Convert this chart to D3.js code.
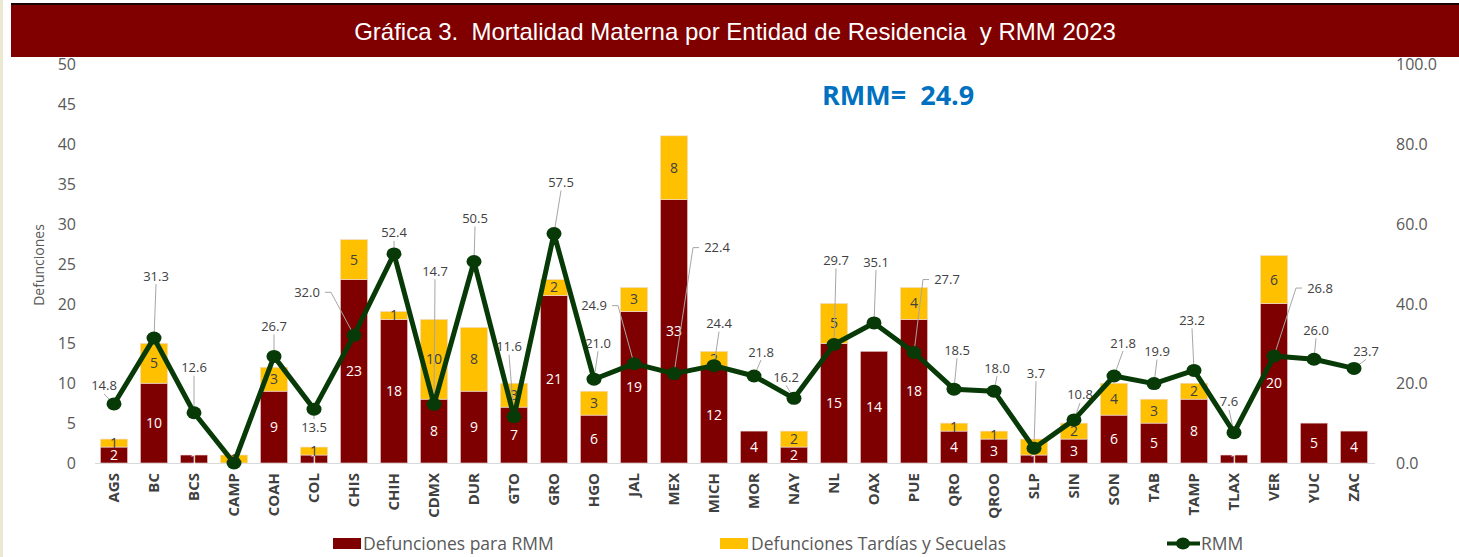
<!DOCTYPE html>
<html lang="es">
<head>
  <meta charset="UTF-8">
  <title>Gráfica 3</title>
  <style>
    body { margin: 0; background: #fff; }
    svg text { font-family: "Open Sans", "Noto Sans", sans-serif; }
    .pre { white-space: pre; }
  </style>
</head>
<body>
  <svg id="chart" width="1459" height="557"></svg>

  <script src="https://d3js.org/d3.v7.min.js"></script>
  <script>
    // datos
    const entidades = ["AGS", "BC", "BCS", "CAMP", "COAH", "COL", "CHIS", "CHIH", "CDMX", "DUR", "GTO", "GRO",
      "HGO", "JAL", "MEX", "MICH", "MOR", "NAY", "NL", "OAX", "PUE", "QRO", "QROO", "SLP", "SIN", "SON",
      "TAB", "TAMP", "TLAX", "VER", "YUC", "ZAC"];
    const defRMM = [2, 10, 1, 0, 9, 1, 23, 18, 8, 9, 7, 21, 6, 19, 33, 12, 4, 2, 15, 14, 18, 4, 3, 1, 3, 6, 5, 8, 1, 20, 5, 4];
    const defTardias = [1, 5, 0, 1, 3, 1, 5, 1, 10, 8, 3, 2, 3, 3, 8, 2, 0, 2, 5, 0, 4, 1, 1, 2, 2, 4, 3, 2, 0, 6, 0, 0];
    const rmm = [14.8, 31.3, 12.6, 0, 26.7, 13.5, 32.0, 52.4, 14.7, 50.5, 11.6, 57.5, 21.0, 24.9, 22.4, 24.4, 21.8, 16.2,
      29.7, 35.1, 27.7, 18.5, 18.0, 3.7, 10.8, 21.8, 19.9, 23.2, 7.6, 26.8, 26.0, 23.7];
    const rmmNacional = 24.9;
    const leftTicks = [0, 5, 10, 15, 20, 25, 30, 35, 40, 45, 50];
    const rightTicks = [0, 20, 40, 60, 80, 100];

    // label placement for the RMM values (offset from the point, px)
    const labelOffset = [[-10, -18], [2, -62], [0, -45], null, [0, -30], [0, 18], [-47, -43], [0, -21],
      [1, -133], [1, -43], [-5, -70], [7, -51], [4, -36], [-40, -58], [43, -126], [5, -42], [7, -24],
      [-8, -21], [2, -84], [2, -61], [33, -73], [3, -39], [3, -23], [2, -75], [6, -25], [9, -33],
      [3, -32], [-2, -50], [-5, -31], [46, -68], [2, -29], [12, -17]];

    const colRed = "#7f0000", colYellow = "#ffc000", colLine = "#073a07";

    const svg = d3.select("#chart");

    // borde izquierdo
    svg.append("rect").attr("x", 0).attr("y", 0).attr("width", 3).attr("height", 557).attr("fill", "#ece8d2");

    // barra de titulo
    svg.append("rect").attr("x", 11).attr("y", 3).attr("width", 1448).attr("height", 2).attr("fill", "#1a0000");
    svg.append("rect").attr("x", 11).attr("y", 5).attr("width", 1448).attr("height", 52).attr("fill", "#800000");
    svg.append("text")
      .attr("class", "pre")
      .attr("x", 735).attr("y", 40)
      .attr("text-anchor", "middle")
      .attr("fill", "#fff")
      .style("font-family", "'Liberation Sans', Arial, sans-serif")
      .style("font-size", "24px")
      .text("Gráfica 3.  Mortalidad Materna por Entidad de Residencia  y RMM 2023");

    const x = d3.scaleBand().domain(entidades).range([94, 1374]).paddingInner(0.32).paddingOuter(0.16);
    const y = d3.scaleLinear().domain([0, 50]).range([463, 64]);
    const y2 = d3.scaleLinear().domain([0, 100]).range([463, 64]);

    // ejes
    const yAxis = d3.axisLeft(y).tickValues(leftTicks).tickSize(0).tickPadding(0);
    const gy = svg.append("g").attr("transform", "translate(76,0)").call(yAxis);
    gy.select(".domain").remove();
    gy.selectAll("text").attr("fill", "#595959").style("font-size", "16px").attr("dy", "0.35em");

    const yAxis2 = d3.axisRight(y2).tickValues(rightTicks).tickSize(0).tickPadding(0).tickFormat(d3.format(".1f"));
    const gy2 = svg.append("g").attr("transform", "translate(1396,0)").call(yAxis2);
    gy2.select(".domain").remove();
    gy2.selectAll("text").attr("fill", "#595959").style("font-size", "16px").attr("dy", "0.35em");

    svg.append("text")
      .attr("transform", "translate(44,265) rotate(-90)")
      .attr("text-anchor", "middle")
      .attr("fill", "#595959")
      .style("font-size", "14px")
      .text("Defunciones");

    svg.append("line")
      .attr("x1", 95).attr("x2", 1375).attr("y1", 463.5).attr("y2", 463.5)
      .attr("stroke", "#d9d9d9").attr("stroke-width", 1);

    const xAxis = d3.axisBottom(x).tickSize(0).tickPadding(0);
    const gx = svg.append("g").attr("transform", "translate(0,473)").call(xAxis);
    gx.select(".domain").remove();
    gx.selectAll("text")
      .attr("transform", "rotate(-90)")
      .attr("text-anchor", "end")
      .attr("x", 0).attr("y", 0).attr("dy", "0.35em")
      .attr("fill", "#404040")
      .style("font-size", "15px")
      .style("font-weight", "bold");

    // barras apiladas
    const rows = entidades.map((e, i) => ({ e: e, a: defRMM[i], b: defTardias[i], r: rmm[i], i: i }));
    const stack = d3.stack().keys(["a", "b"])(rows);
    const colors = [colRed, colYellow];

    stack.forEach((layer, k) => {
      const g = svg.append("g");
      g.selectAll("rect")
        .data(layer.filter(d => d[1] > d[0]))
        .enter()
        .append("rect")
        .attr("x", d => x(d.data.e))
        .attr("y", d => y(d[1]))
        .attr("width", x.bandwidth())
        .attr("height", d => y(d[0]) - y(d[1]))
        .attr("fill", colors[k])
        .attr("stroke", "#f2dcdc")
        .attr("stroke-width", 0.6);

      g.selectAll("text")
        .data(layer.filter(d => d[1] > d[0]))
        .enter()
        .append("text")
        .attr("x", d => x(d.data.e) + x.bandwidth() / 2)
        .attr("y", d => (y(d[0]) + y(d[1])) / 2)
        .attr("dy", "0.36em")
        .attr("text-anchor", "middle")
        .attr("fill", k === 0 ? "#fff" : "#404040")
        .style("font-size", "14px")
        .text(d => d[1] - d[0]);
    });

    // linea RMM
    const cx = d => x(d.e) + x.bandwidth() / 2;
    const line = d3.line().x(cx).y(d => y2(d.r));

    // lineas guia de etiquetas
    const lab = svg.append("g");
    rows.forEach(d => {
      const off = labelOffset[d.i];
      if (!off) return;
      const px = cx(d), py = y2(d.r);
      const lx = px + off[0], ly = py + off[1];
      const txt = d3.format(".1f")(d.r);
      const dist = Math.hypot(off[0], off[1]);
      if (dist > 16) {
        let path;
        if (Math.abs(off[0]) > 25) {
          const half = 15;
          const sx = off[0] < 0 ? lx + half + 3 : lx - half - 3;
          const sx2 = off[0] < 0 ? sx + 6 : sx - 6;
          path = `M${sx},${ly}L${sx2},${ly}L${px},${py}`;
        } else if (off[1] > 0) {
          path = `M${lx},${ly - 8}L${px},${py}`;
        } else {
          path = `M${lx},${ly + 8}L${px},${py}`;
        }
        lab.append("path").attr("d", path).attr("fill", "none")
          .attr("stroke", "#a6a6a6").attr("stroke-width", 1);
      }
      lab.append("text")
        .attr("x", lx).attr("y", ly).attr("dy", "0.35em")
        .attr("text-anchor", "middle")
        .attr("fill", "#404040")
        .style("font-size", "13px")
        .text(txt);
    });

    svg.append("path")
      .datum(rows)
      .attr("d", line)
      .attr("fill", "none")
      .attr("stroke", colLine)
      .attr("stroke-width", 5)
      .attr("stroke-linejoin", "round");

    svg.append("g").selectAll("ellipse")
      .data(rows)
      .enter()
      .append("ellipse")
      .attr("cx", cx)
      .attr("cy", d => y2(d.r))
      .attr("rx", 7.5).attr("ry", 6.5)
      .attr("fill", colLine);

    // RMM nacional
    svg.append("text")
      .attr("class", "pre")
      .attr("x", 822).attr("y", 105)
      .attr("fill", "#0070c0")
      .style("font-size", "27px")
      .style("font-weight", "bold")
      .text("RMM=  " + rmmNacional.toFixed(1));

    // leyenda
    const leg = svg.append("g").style("font-size", "17.5px");
    leg.append("rect").attr("x", 333).attr("y", 538).attr("width", 28).attr("height", 11).attr("fill", colRed);
    leg.append("text").attr("x", 363).attr("y", 550).attr("fill", "#595959").text("Defunciones para RMM");
    leg.append("rect").attr("x", 720).attr("y", 538).attr("width", 28).attr("height", 11).attr("fill", colYellow);
    leg.append("text").attr("x", 751).attr("y", 550).attr("fill", "#595959").text("Defunciones Tardías y Secuelas");
    leg.append("line").attr("x1", 1167).attr("x2", 1200).attr("y1", 543.5).attr("y2", 543.5)
      .attr("stroke", colLine).attr("stroke-width", 4);
    leg.append("ellipse").attr("cx", 1183).attr("cy", 543.5).attr("rx", 7).attr("ry", 6).attr("fill", colLine);
    leg.append("text").attr("x", 1201).attr("y", 550).attr("fill", "#595959").text("RMM");
  </script>
</body>
</html>
